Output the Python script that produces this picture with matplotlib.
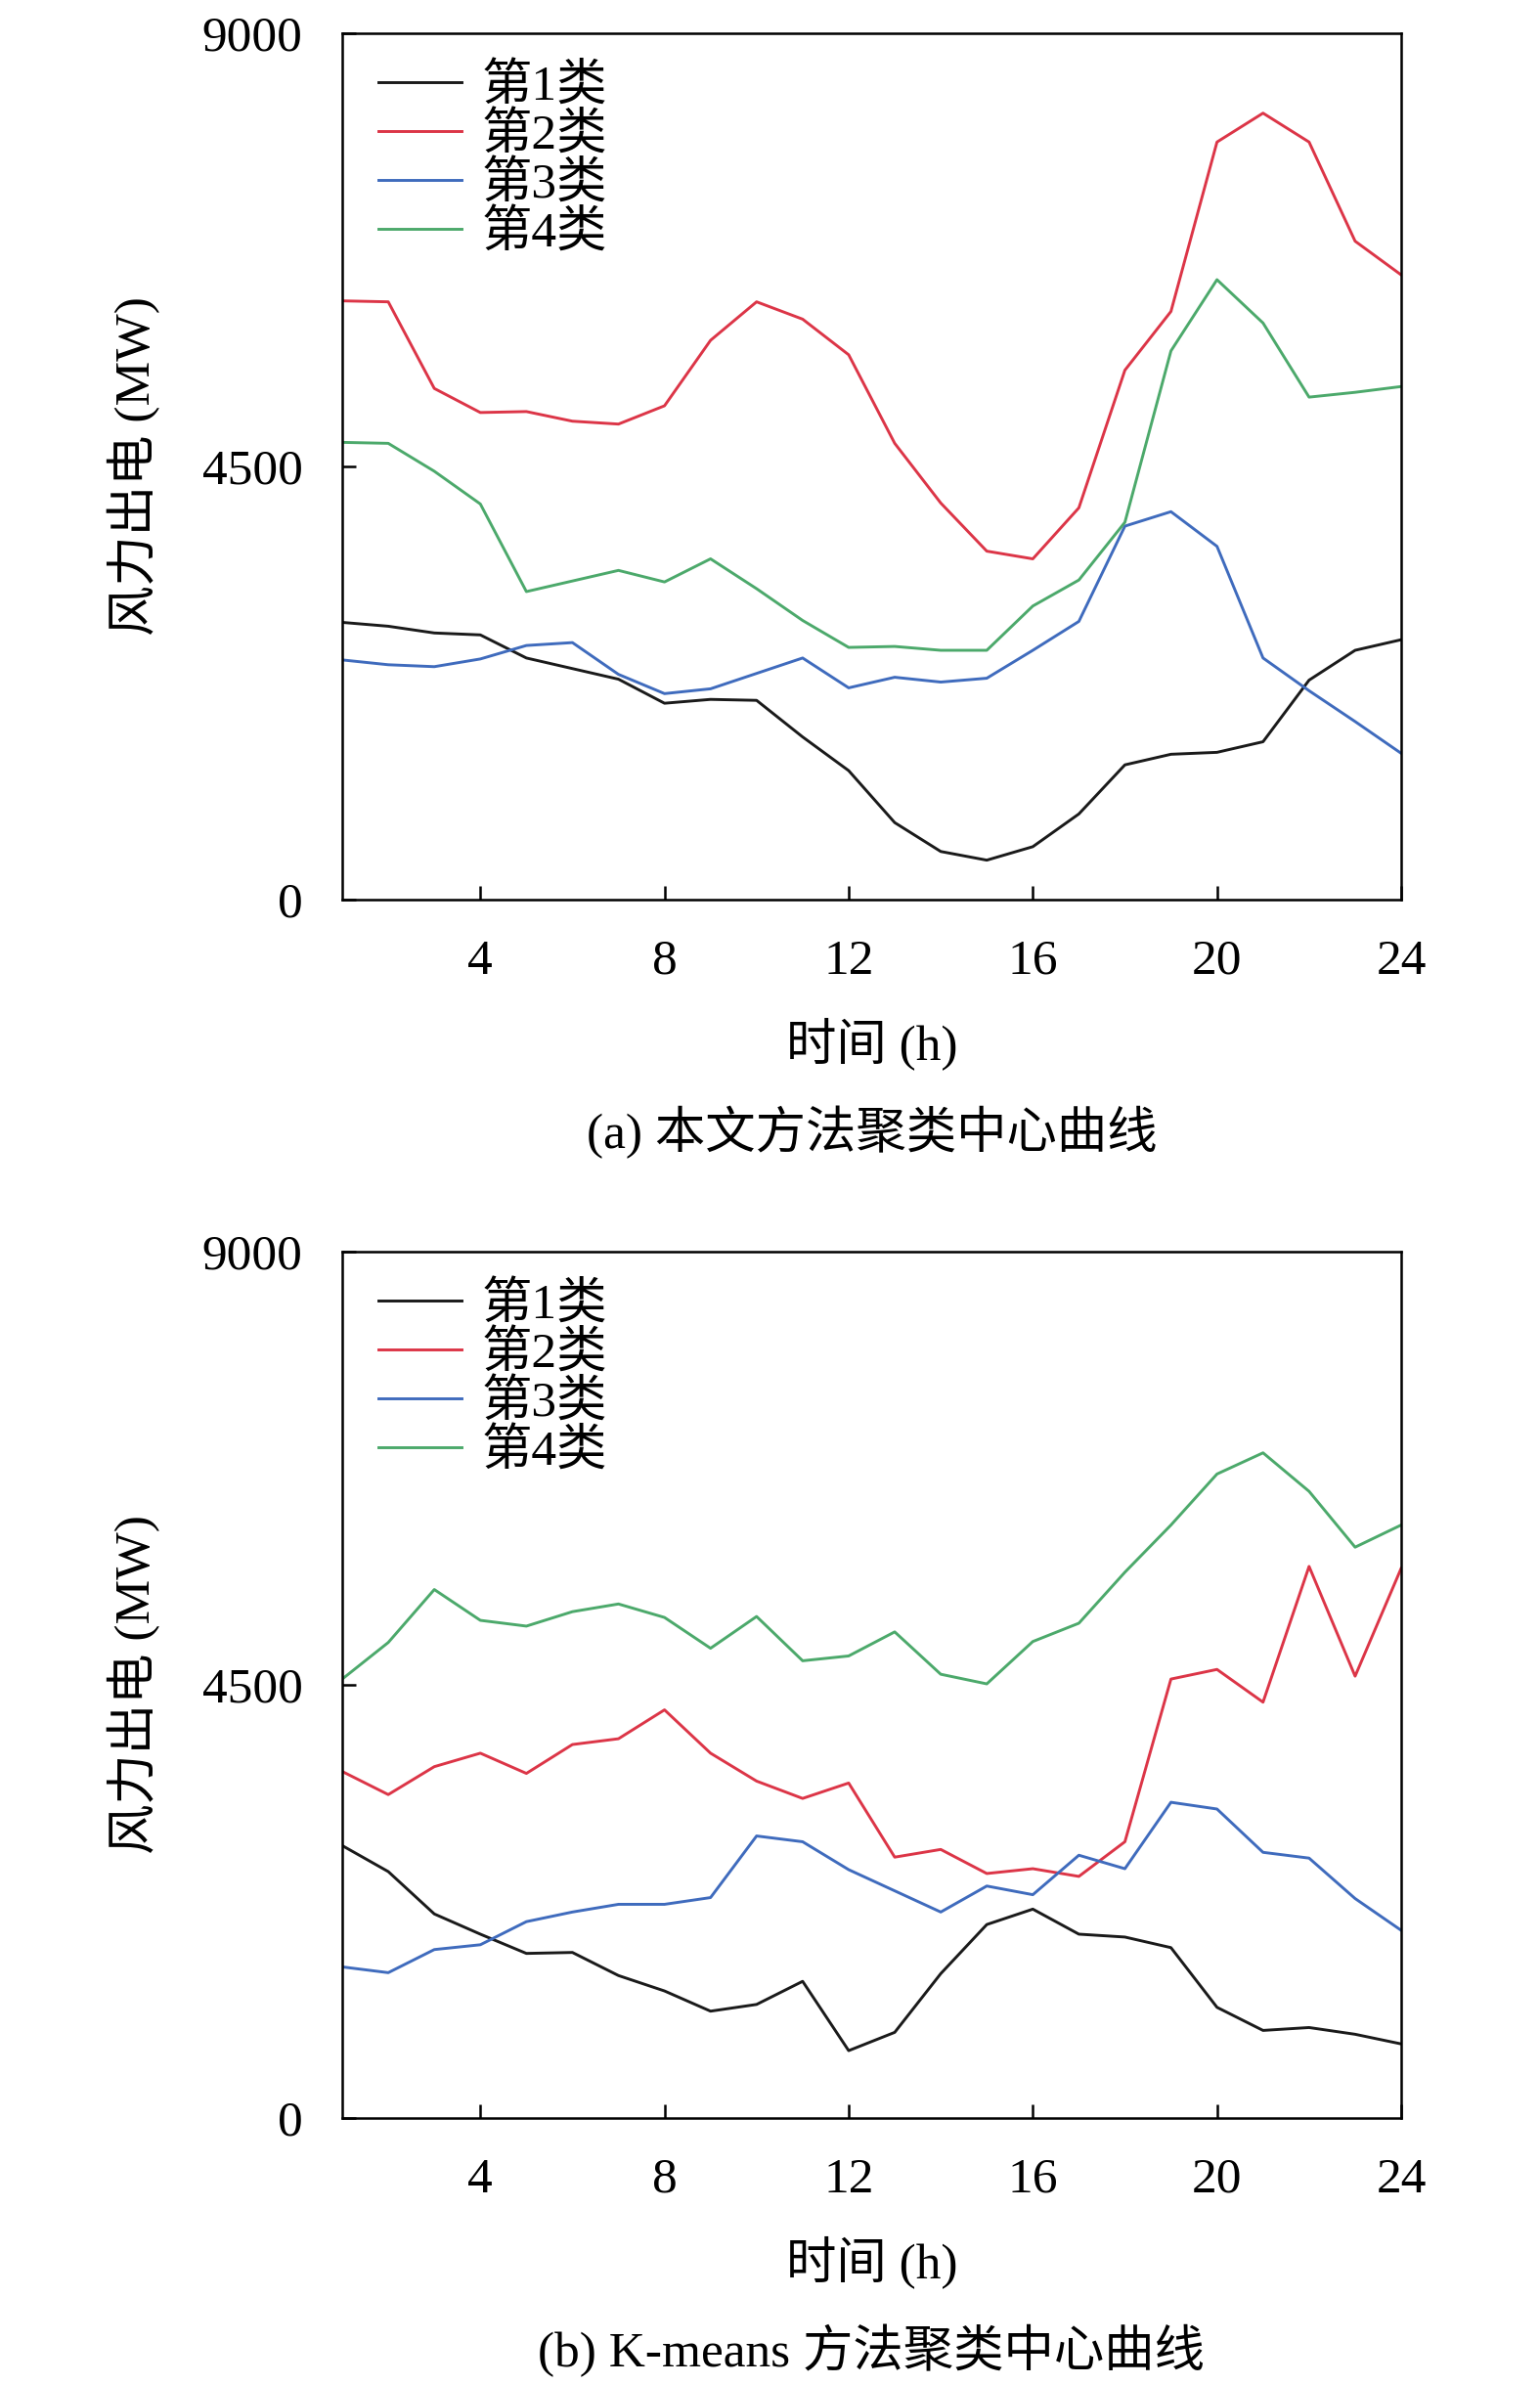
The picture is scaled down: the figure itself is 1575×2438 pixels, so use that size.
import numpy as np
import matplotlib
matplotlib.use("Agg")
import matplotlib.pyplot as plt

plt.rcParams['font.family'] = ['Liberation Serif', 'Noto Sans CJK SC']
plt.rcParams['font.size'] = 37

hours = np.arange(1, 25)
labels = ['第1类', '第2类', '第3类', '第4类']
colors = ['#1a1a1a', '#dc3547', '#3f6bbd', '#4ca96b']

# (a) proposed method cluster centres
c1_a = [2880, 2840, 2770, 2750, 2510, 2400, 2290, 2040, 2080, 2070, 1690, 1340,
        800, 500, 410, 550, 890, 1400, 1510, 1530, 1640, 2280, 2590, 2700]
c2_a = [6220, 6210, 5310, 5060, 5070, 4970, 4940, 5130, 5810, 6210, 6030, 5660,
        4740, 4120, 3620, 3540, 4070, 5500, 6110, 7870, 8170, 7870, 6840, 6490]
c3_a = [2490, 2440, 2420, 2500, 2640, 2670, 2340, 2140, 2190, 2350, 2510, 2200,
        2310, 2260, 2300, 2590, 2890, 3880, 4030, 3670, 2510, 2170, 1850, 1520]
c4_a = [4750, 4740, 4450, 4110, 3200, 3310, 3420, 3300, 3540, 3230, 2900, 2620,
        2630, 2590, 2590, 3050, 3320, 3920, 5700, 6440, 5990, 5220, 5270, 5330]

# (b) K-means cluster centres
c1_b = [2830, 2560, 2120, 1910, 1710, 1720, 1480, 1320, 1110, 1180, 1420, 700,
        890, 1500, 2010, 2170, 1910, 1880, 1770, 1150, 910, 940, 870, 770]
c2_b = [3600, 3360, 3650, 3790, 3580, 3880, 3940, 4240, 3790, 3500, 3320, 3480,
        2710, 2790, 2540, 2590, 2510, 2870, 4560, 4660, 4320, 5730, 4590, 5710]
c3_b = [1570, 1510, 1750, 1800, 2040, 2140, 2220, 2220, 2290, 2930, 2870, 2580,
        2360, 2140, 2410, 2320, 2730, 2590, 3280, 3210, 2760, 2700, 2280, 1950]
c4_b = [4560, 4940, 5490, 5170, 5110, 5260, 5340, 5200, 4880, 5210, 4750, 4800,
        5050, 4610, 4510, 4950, 5140, 5670, 6160, 6690, 6910, 6510, 5930, 6160]

xticks = [4, 8, 12, 16, 20, 24]
yticks = [0, 4500, 9000]
captions = ['(a) 本文方法聚类中心曲线', '(b) K-means 方法聚类中心曲线']

W, H = 1575, 2438
fig = plt.figure(figsize=(W / 100, H / 100), dpi=100)

panels = [
    ([c1_a, c2_a, c3_a, c4_a], 34, 1067, 1158),
    ([c1_b, c2_b, c3_b, c4_b], 1280, 2313, 2404),
]

for (series, top_px, xlab_px, cap_px), cap in zip(panels, captions):
    ax = fig.add_axes([350 / W, 1 - (top_px + 886) / H, 1083 / W, 886 / H])
    for s, lab, col in zip(series, labels, colors):
        ax.plot(hours, s, color=col, lw=2.1, label=lab)
    ax.set_xlim(1, 24)
    ax.set_ylim(0, 9000)
    ax.set_xticks(xticks)
    ax.set_yticks(yticks)
    ax.tick_params(direction='in', length=10, width=1.8, pad=29)
    for sp in ax.spines.values():
        sp.set_linewidth(1.8)
    ax.set_ylabel('风力出电 (MW)')
    ax.yaxis.set_label_coords(-0.172, 0.5)
    ax.legend(loc='upper left', bbox_to_anchor=(0.034, 0.965), frameon=False,
              borderpad=0, borderaxespad=0, labelspacing=0.04,
              handlelength=1.65, handletextpad=0.4, fontsize=37)
    fig.text(891.5 / W, 1 - xlab_px / H, '时间 (h)', ha='center', va='center')
    fig.text(891.5 / W, 1 - cap_px / H, cap, ha='center', va='center')

fig.savefig('out.png', dpi=100)
